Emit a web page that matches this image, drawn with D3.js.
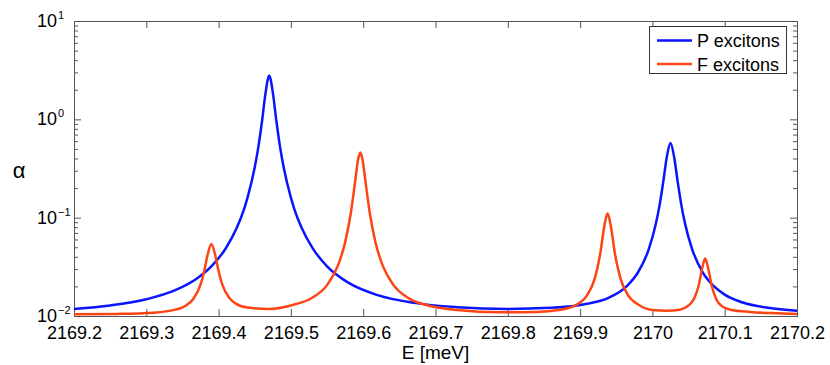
<!DOCTYPE html>
<html>
<head>
<meta charset="utf-8">
<script src="https://cdn.jsdelivr.net/npm/d3@7"></script>
<style>
  body { margin: 0; background: #fff; }
  svg { font-family: "Liberation Sans", Arial, Helvetica, sans-serif; }
  .axis path, .axis line { stroke: #555; }
  .axis text { fill: #000; font-size: 18px; }
</style>
</head>
<body>
<div id="chart"></div>
<script>
// P excitons (blue)
var pEnergy = [2169.20, 2169.25, 2169.30, 2169.34, 2169.37, 2169.39, 2169.41, 2169.425, 2169.435, 2169.44,
  2169.45, 2169.455, 2169.46, 2169.465, 2169.47, 2169.475, 2169.48, 2169.485, 2169.49, 2169.50, 2169.505,
  2169.515, 2169.53, 2169.55, 2169.58, 2169.62, 2169.67, 2169.73, 2169.80, 2169.86, 2169.91, 2169.94,
  2169.965, 2169.98, 2169.995, 2170.005, 2170.01, 2170.015, 2170.02, 2170.025, 2170.03, 2170.035, 2170.04,
  2170.045, 2170.055, 2170.07, 2170.085, 2170.10, 2170.125, 2170.16, 2170.20];
var pAlpha = [0.0118, 0.0128, 0.0148, 0.0183, 0.0241, 0.0320, 0.0489, 0.0785, 0.121, 0.160,
  0.325, 0.525, 0.950, 1.87, 2.78, 1.87, 0.950, 0.525, 0.325, 0.160, 0.121,
  0.0786, 0.0490, 0.0320, 0.0217, 0.0163, 0.0136, 0.0123, 0.0118, 0.0121, 0.0133, 0.0154,
  0.0203, 0.0277, 0.0478, 0.0882, 0.135, 0.231, 0.417, 0.575, 0.417, 0.231, 0.135,
  0.0880, 0.0477, 0.0275, 0.0201, 0.0165, 0.0137, 0.0121, 0.0113];

// F excitons (orange)
var fEnergy = [2169.20, 2169.26, 2169.31, 2169.34, 2169.355, 2169.365, 2169.375, 2169.38, 2169.385, 2169.39,
  2169.395, 2169.40, 2169.405, 2169.415, 2169.425, 2169.44, 2169.47, 2169.50, 2169.53, 2169.55,
  2169.565, 2169.575, 2169.583, 2169.589, 2169.593, 2169.596, 2169.599, 2169.603, 2169.609, 2169.617,
  2169.627, 2169.642, 2169.662, 2169.69, 2169.73, 2169.79, 2169.84, 2169.87, 2169.895, 2169.91,
  2169.92, 2169.928, 2169.934, 2169.938, 2169.942, 2169.948, 2169.956, 2169.966, 2169.981, 2170.00,
  2170.02, 2170.038, 2170.05, 2170.058, 2170.064, 2170.069, 2170.073, 2170.077, 2170.082, 2170.088,
  2170.096, 2170.11, 2170.135, 2170.165, 2170.20];
var fAlpha = [0.0104, 0.0105, 0.0108, 0.0116, 0.0128, 0.0149, 0.0208, 0.0284, 0.0425, 0.0539,
  0.0426, 0.0285, 0.0210, 0.0152, 0.0132, 0.0122, 0.0118, 0.0128, 0.0154, 0.0206,
  0.0325, 0.0561, 0.113, 0.238, 0.392, 0.461, 0.392, 0.238, 0.113, 0.0560,
  0.0325, 0.0206, 0.0153, 0.0128, 0.0115, 0.0109, 0.0110, 0.0115, 0.0130, 0.0164,
  0.0237, 0.0437, 0.0862, 0.110, 0.0863, 0.0439, 0.0239, 0.0164, 0.0130, 0.0115,
  0.0113, 0.0116, 0.0128, 0.0152, 0.0204, 0.0311, 0.0385, 0.0310, 0.0204, 0.0150,
  0.0126, 0.0115, 0.0110, 0.0107, 0.0105];

var xTicks = [2169.2, 2169.3, 2169.4, 2169.5, 2169.6, 2169.7, 2169.8, 2169.9, 2170.0, 2170.1, 2170.2];
var xTickLabels = ["2169.2", "2169.3", "2169.4", "2169.5", "2169.6", "2169.7", "2169.8", "2169.9", "2170", "2170.1", "2170.2"];
var yTicks = [0.01, 0.1, 1, 10];
var yTickExponents = ["\u22122", "\u22121", "0", "1"];
var seriesNames = ["P excitons", "F excitons"];
var seriesColors = ["#0a14ff", "#ff4413"];

var width = 830, height = 365;
var margin = {top: 21, right: 33, bottom: 49, left: 74};
var plotW = width - margin.left - margin.right,
    plotH = height - margin.top - margin.bottom;

var svg = d3.select("#chart").append("svg")
    .attr("width", width)
    .attr("height", height);

var g = svg.append("g")
    .attr("transform", "translate(" + margin.left + "," + margin.top + ")");

var x = d3.scaleLinear().domain([2169.2, 2170.2]).range([0, plotW]);
var y = d3.scaleLog().domain([0.01, 10]).range([plotH, 0]);

// minor log ticks
var minorTicks = [];
[0.01, 0.1, 1].forEach(function(dec) {
    for (var k = 2; k <= 9; k++) minorTicks.push(dec * k);
});

// box
g.append("rect")
    .attr("width", plotW)
    .attr("height", plotH)
    .attr("fill", "none")
    .attr("stroke", "#555")
    .attr("shape-rendering", "crispEdges");

// x axis bottom + top
g.append("g")
    .attr("class", "axis")
    .attr("transform", "translate(0," + plotH + ")")
    .call(d3.axisBottom(x).tickValues(xTicks)
        .tickFormat(function(d, i) { return xTickLabels[i]; })
        .tickSizeInner(-7).tickSizeOuter(0).tickPadding(10))
    .call(function(s) { s.select(".domain").attr("stroke", "#222"); });

g.append("g")
    .attr("class", "axis")
    .call(d3.axisTop(x).tickValues(xTicks).tickFormat("")
        .tickSizeInner(-7).tickSizeOuter(0))
    .call(function(s) { s.select(".domain").remove(); });

// y axis left + right, major and minor
g.append("g")
    .attr("class", "axis")
    .call(d3.axisLeft(y).tickValues(yTicks).tickFormat("")
        .tickSizeInner(-7).tickSizeOuter(0))
    .call(function(s) { s.select(".domain").remove(); });
g.append("g")
    .attr("class", "axis")
    .call(d3.axisLeft(y).tickValues(minorTicks).tickFormat("")
        .tickSizeInner(-4).tickSizeOuter(0))
    .call(function(s) { s.select(".domain").remove(); });
g.append("g")
    .attr("class", "axis")
    .attr("transform", "translate(" + plotW + ",0)")
    .call(d3.axisRight(y).tickValues(yTicks).tickFormat("")
        .tickSizeInner(-7).tickSizeOuter(0))
    .call(function(s) { s.select(".domain").remove(); });
g.append("g")
    .attr("class", "axis")
    .attr("transform", "translate(" + plotW + ",0)")
    .call(d3.axisRight(y).tickValues(minorTicks).tickFormat("")
        .tickSizeInner(-4).tickSizeOuter(0))
    .call(function(s) { s.select(".domain").remove(); });

// y tick labels 10^n
var yLab = g.append("g").attr("font-size", 18);
yTicks.forEach(function(t, i) {
    yLab.append("text")
        .attr("x", -17)
        .attr("y", y(t) + 6)
        .attr("text-anchor", "end")
        .text("10");
    yLab.append("text")
        .attr("x", -16)
        .attr("y", y(t) - 2)
        .attr("font-size", 11)
        .text(yTickExponents[i]);
});

// axis titles
svg.append("text")
    .attr("x", margin.left + plotW / 2)
    .attr("y", 359)
    .attr("text-anchor", "middle")
    .attr("font-size", 19)
    .text("E [meV]");

svg.append("text")
    .attr("x", 19)
    .attr("y", 178)
    .attr("text-anchor", "middle")
    .attr("font-size", 22)
    .text("\u03b1");

// curves
var line = d3.line()
    .x(function(d) { return x(d[0]); })
    .y(function(d) { return y(d[1]); })
    .curve(d3.curveMonotoneX);

var series = [
    d3.zip(pEnergy, pAlpha),
    d3.zip(fEnergy, fAlpha)
];

g.append("g")
    .selectAll("path.curve")
    .data(series)
    .enter()
    .append("path")
    .attr("class", "curve")
    .attr("fill", "none")
    .attr("stroke", function(d, i) { return seriesColors[i]; })
    .attr("stroke-width", 2.5)
    .attr("stroke-linejoin", "round")
    .attr("d", line);

// legend
var legend = svg.append("g").attr("transform", "translate(649,26)");
legend.append("rect")
    .attr("width", 137)
    .attr("height", 47)
    .attr("fill", "#fff")
    .attr("stroke", "#333")
    .attr("shape-rendering", "crispEdges");
seriesNames.forEach(function(name, i) {
    legend.append("line")
        .attr("x1", 8).attr("x2", 43)
        .attr("y1", 14.5 + i * 23.5).attr("y2", 14.5 + i * 23.5)
        .attr("stroke", seriesColors[i])
        .attr("stroke-width", 2.5);
    legend.append("text")
        .attr("x", 48)
        .attr("y", 21 + i * 23.5)
        .attr("font-size", 18)
        .text(name);
});
</script>
</body>
</html>
